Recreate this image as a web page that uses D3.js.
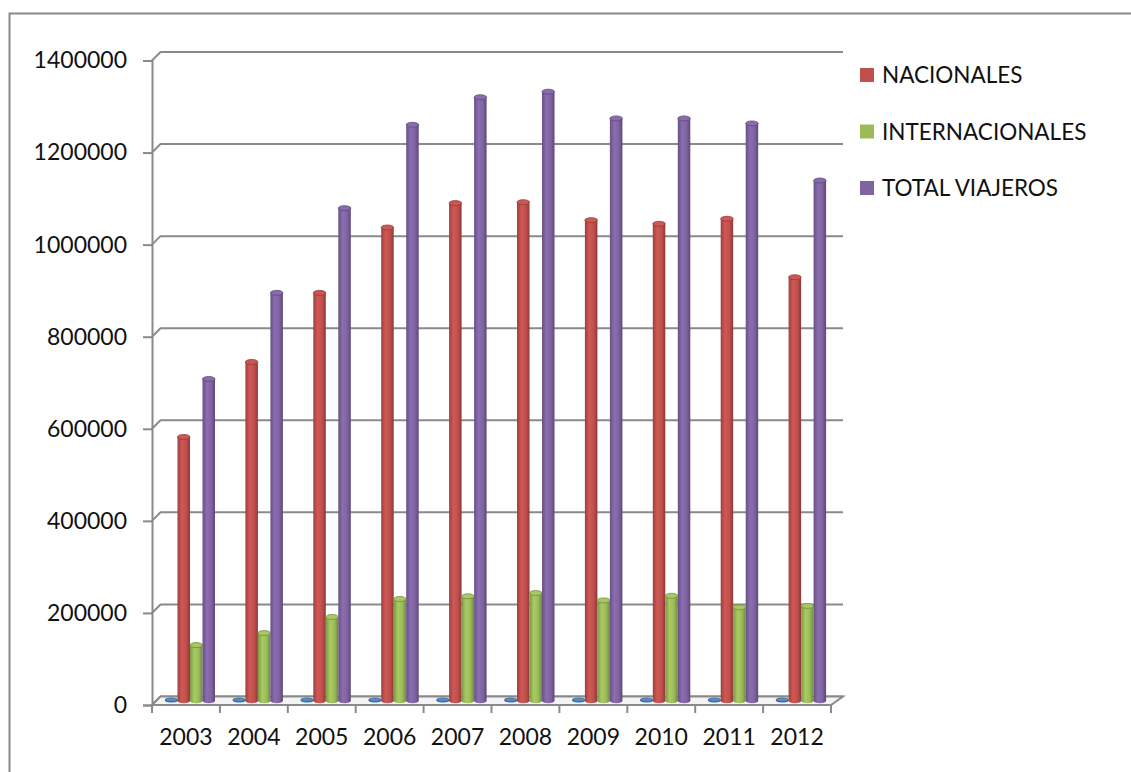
<!DOCTYPE html>
<html>
<head>
<meta charset="utf-8">
<script src="https://cdn.jsdelivr.net/npm/d3@7"></script>
<style>
  body { margin: 0; background: #fff; }
  text { font-family: Lato, "Liberation Sans", sans-serif; fill: #111; }
</style>
</head>
<body>
<svg></svg>
<script>
// data
var years = ["2003","2004","2005","2006","2007","2008","2009","2010","2011","2012"];
var anio = [2003, 2004, 2005, 2006, 2007, 2008, 2009, 2010, 2011, 2012]; // blue series, near zero
var nacionales = [573000, 736000, 886000, 1028000, 1081000, 1083000, 1044000, 1036000, 1047000, 920000];
var internacionales = [121000, 147000, 182000, 221000, 227000, 234000, 218000, 228000, 203000, 206000];
var totalViajeros = [699000, 886000, 1070000, 1251000, 1311000, 1323000, 1265000, 1265000, 1254000, 1130000];
var yTicks = [0, 200000, 400000, 600000, 800000, 1000000, 1200000, 1400000];
var legendNames = ["NACIONALES", "INTERNACIONALES", "TOTAL VIAJEROS"];

var series = [
  {key: "anio", values: anio, color: "#4F81BD", legend: false},
  {key: "nac", values: nacionales, color: "#C0504D", legend: true},
  {key: "int", values: internacionales, color: "#9BBB59", legend: true},
  {key: "tot", values: totalViajeros, color: "#8064A2", legend: true}
];

var screen = {width: 1131, height: 772};
var depth = {dx: 8.5, dy: 8.5};
var gridColor = "#8a8a8a";

var svg = d3.select("svg")
  .attr("width", screen.width)
  .attr("height", screen.height);

// outer chart border
svg.append("rect")
  .attr("x", 9.5).attr("y", 13.5)
  .attr("width", 1140).attr("height", 800)
  .attr("fill", "none")
  .attr("stroke", "#8a8a8a")
  .attr("stroke-width", 2);

var xScale = d3.scaleBand().domain(years).range([152, 831]);
var sub = d3.scaleBand().domain(series.map(function(s){ return s.key; })).range([13, 63]);
var yScale = d3.scaleLinear().domain([0, 1400000]).range([705, 60.5]);

// gridlines on back wall, with a short slanted lead from the axis
var grid = svg.append("g").attr("id", "grid");
grid.selectAll("path")
  .data(yTicks)
  .enter()
  .append("path")
  .attr("d", function(v){
    var y = yScale(v);
    return "M152," + y + "L" + (152 + depth.dx) + "," + (y - depth.dy) + "L843," + (y - depth.dy);
  })
  .attr("fill", "none")
  .attr("stroke", gridColor)
  .attr("stroke-width", 2);

// floor
var y0 = yScale(0);
svg.append("path")
  .attr("d", "M152," + y0 + "L831," + y0 + "L843," + (y0 - depth.dy) + "L" + (152 + depth.dx) + "," + (y0 - depth.dy) + "Z")
  .attr("fill", "#f4f4f4")
  .attr("stroke", gridColor)
  .attr("stroke-width", 2);

// y axis
var yAxis = d3.axisLeft(yScale)
  .tickValues(yTicks)
  .tickSize(9)
  .tickPadding(16)
  .tickFormat(d3.format("d"));

var yg = svg.append("g")
  .attr("transform", "translate(152,0)")
  .call(yAxis);
yg.select(".domain").attr("stroke", gridColor).attr("stroke-width", 2);
yg.selectAll(".tick line").attr("stroke", gridColor).attr("stroke-width", 2);
yg.selectAll(".tick text")
  .style("font-size", "23px")
  .attr("fill", "#111");

// x axis
var xAxis = d3.axisBottom(xScale).tickSize(0).tickPadding(24);
var xg = svg.append("g")
  .attr("transform", "translate(0," + y0 + ")")
  .call(xAxis);
xg.select(".domain").remove();
xg.selectAll(".tick text")
  .style("font-size", "23px")
  .attr("fill", "#111");

// category separators
svg.append("g").selectAll("line")
  .data(years.concat(["end"]))
  .enter()
  .append("line")
  .attr("x1", function(d, i){ return i < years.length ? xScale(d) : xScale.range()[1]; })
  .attr("x2", function(d, i){ return i < years.length ? xScale(d) : xScale.range()[1]; })
  .attr("y1", y0)
  .attr("y2", y0 + 8)
  .attr("stroke", gridColor)
  .attr("stroke-width", 2);

// cylinder gradients
var defs = svg.append("defs");
series.forEach(function(s){
  var c = d3.color(s.color);
  var g = defs.append("linearGradient")
    .attr("id", "grad-" + s.key)
    .attr("x1", "0%").attr("x2", "100%").attr("y1", "0%").attr("y2", "0%");
  g.append("stop").attr("offset", "0%").attr("stop-color", c.darker(0.6));
  g.append("stop").attr("offset", "35%").attr("stop-color", c.brighter(0.25));
  g.append("stop").attr("offset", "70%").attr("stop-color", c);
  g.append("stop").attr("offset", "100%").attr("stop-color", c.darker(0.9));
});

// bars as cylinders
var barBase = y0 - depth.dy / 2;
var bw = sub.bandwidth();
var ry = 2.5;

series.forEach(function(s){
  var g = svg.append("g").attr("class", "series-" + s.key);
  var c = d3.color(s.color);
  var items = years.map(function(yr, i){ return {year: yr, value: s.values[i]}; });

  var bars = g.selectAll("g")
    .data(items)
    .enter()
    .append("g")
    .attr("transform", function(d){
      return "translate(" + (xScale(d.year) + sub(s.key)) + ",0)";
    });

  bars.append("ellipse")
    .attr("cx", bw / 2)
    .attr("cy", barBase)
    .attr("rx", bw / 2)
    .attr("ry", s.key === "anio" ? 1.8 : ry)
    .attr("fill", "url(#grad-" + s.key + ")");

  bars.append("rect")
    .attr("x", 0)
    .attr("width", bw)
    .attr("y", function(d){ return yScale(d.value) - depth.dy / 2; })
    .attr("height", function(d){ return Math.max(0, barBase - (yScale(d.value) - depth.dy / 2)); })
    .attr("fill", "url(#grad-" + s.key + ")");

  bars.append("ellipse")
    .attr("cx", bw / 2)
    .attr("cy", function(d){ return yScale(d.value) - depth.dy / 2; })
    .attr("rx", bw / 2)
    .attr("ry", s.key === "anio" ? 1.8 : ry)
    .attr("fill", c.brighter(0.2))
    .attr("stroke", c.darker(0.8))
    .attr("stroke-width", 0.8);
});

// legend
var legendItems = series.filter(function(s){ return s.legend; });
var legend = svg.append("g").attr("id", "legend");
var rows = legend.selectAll("g")
  .data(legendItems)
  .enter()
  .append("g")
  .attr("transform", function(d, i){ return "translate(860," + (75 + i * 56.5) + ")"; });

rows.append("rect")
  .attr("x", 0).attr("y", -7)
  .attr("width", 14).attr("height", 14)
  .attr("fill", function(d){ return d.color; });

rows.append("text")
  .attr("x", 22)
  .attr("y", 0)
  .attr("dy", "0.36em")
  .style("font-size", "22.5px")
  .text(function(d, i){ return legendNames[i]; });
</script>
</body>
</html>
